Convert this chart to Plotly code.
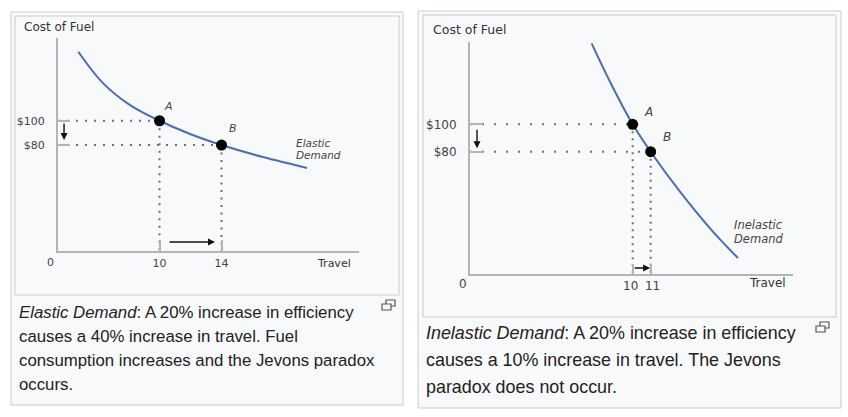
import plotly.graph_objects as go

W, H = 848, 417

# ---------------- data ----------------
# Elastic demand curve (travel, cost of fuel) – nominal diagram units
el_travel = [4.76, 6.35, 8.10, 10.0, 11.97, 14.0, 16.68, 19.52]
el_cost = [156.8, 131.0, 112.9, 100.0, 89.1, 80.0, 70.1, 61.1]
el_points_x = [10, 14]
el_points_y = [100, 80]
el_point_labels = ["A", "B"]
el_xticks = [10, 14]
el_xticktext = ["10", "14"]
el_yticks = [100, 80]
el_yticktext = ["$100", "$80"]

# Inelastic demand curve
in_travel = [7.72, 8.74, 10.0, 11.0, 12.63, 14.46, 15.85]
in_cost = [159.1, 131.1, 100.0, 80.0, 50.8, 21.6, 2.4]
in_points_x = [10, 11]
in_points_y = [100, 80]
in_point_labels = ["A", "B"]
in_xticks = [10, 11]
in_xticktext = ["10\u00a0", "\u00a011"]
in_yticks = [100, 80]
in_yticktext = ["$100", "$80"]

captions_left = [
    "<i>Elastic Demand</i>: A 20% increase in efficiency",
    "causes a 40% increase in travel. Fuel",
    "consumption increases and the Jevons paradox",
    "occurs.",
]
captions_right = [
    "<i>Inelastic Demand</i>: A 20% increase in efficiency",
    "causes a 10% increase in travel. The Jevons",
    "paradox does not occur.",
]

# ---------------- styling / layout ----------------
CURVE = "#4a6db3"
GUIDE = "#6f6f6f"
AXIS = "#b4b4b4"
LABEL = "#444444"
FONT = "DejaVu Sans, Liberation Sans, Arial, sans-serif"
CAP_FONT = "Liberation Sans, Arial, sans-serif"

def px_dom_x(a, b):
    return [a / W, b / W]

def px_dom_y(top, bottom):
    return [1 - bottom / H, 1 - top / H]

L_XR = [3.45, 22.87]
L_YR = [-7.2, 168.1]
R_XR = [0.96, 18.91]
R_YR = [-9.3, 160.1]

fig = go.Figure()

def add_panel(xa, ya, tx, cy, px_, py_, labels, xr, yr, dash_h, dash_v, fs,
              lab_shift, darrow_x, rarrow_y, d_inset, r_inset):
    # guide dotted lines
    for (x0, y0) in zip(px_, py_):
        fig.add_trace(go.Scatter(x=[xr[0], x0], y=[y0, y0], mode="lines",
                                 line=dict(color=GUIDE, width=2, dash=dash_h),
                                 xaxis=xa, yaxis=ya, hoverinfo="skip", showlegend=False))
        fig.add_trace(go.Scatter(x=[x0, x0], y=[y0, yr[0]], mode="lines",
                                 line=dict(color=GUIDE, width=2, dash=dash_v),
                                 xaxis=xa, yaxis=ya, hoverinfo="skip", showlegend=False))
    # curve
    fig.add_trace(go.Scatter(x=tx, y=cy, mode="lines",
                             line=dict(color=CURVE, width=2, shape="spline", smoothing=1.0),
                             xaxis=xa, yaxis=ya, hoverinfo="skip", showlegend=False))
    # points
    fig.add_trace(go.Scatter(x=px_, y=py_, mode="markers",
                             marker=dict(color="black", size=11),
                             xaxis=xa, yaxis=ya, hoverinfo="skip", showlegend=False))
    for (x0, y0, t, (sx, sy)) in zip(px_, py_, labels, lab_shift):
        fig.add_annotation(x=x0, y=y0, xref=xa, yref=ya, text="<i>%s</i>" % t,
                           showarrow=False, xshift=sx, yshift=sy,
                           font=dict(family=FONT, size=fs, color=LABEL))
    # down arrow (price drop)
    fig.add_annotation(x=darrow_x, y=py_[1] + d_inset[1], ax=darrow_x, ay=py_[0] - d_inset[0],
                       xref=xa, yref=ya, axref=xa, ayref=ya, text="", showarrow=True,
                       arrowhead=2, arrowsize=1, arrowwidth=1.4, arrowcolor="#111", standoff=0)
    # right arrow (travel increase)
    fig.add_annotation(x=px_[1] - r_inset[1], y=rarrow_y, ax=px_[0] + r_inset[0], ay=rarrow_y,
                       xref=xa, yref=ya, axref=xa, ayref=ya, text="", showarrow=True,
                       arrowhead=2, arrowsize=1, arrowwidth=1.4, arrowcolor="#111", standoff=0)

add_panel("x", "y", el_travel, el_cost, el_points_x, el_points_y, el_point_labels,
          L_XR, L_YR, "2px,7px", "2px,5.5px", 11,
          [(9, 14), (11, 17)], 3.84, 0.2, (1.1, 4.1), (0.55, 0.42))
add_panel("x2", "y2", in_travel, in_cost, in_points_x, in_points_y, in_point_labels,
          R_XR, R_YR, "2px,10px", "2px,5px", 12,
          [(16, 12), (16, 15)], 1.35, -4.9, (2.8, 2.6), (0.03, 0.03))

axis_common = dict(showgrid=False, zeroline=False, showline=True, linecolor=AXIS,
                   linewidth=2, ticks="inside", tickcolor=AXIS, tickwidth=1.5,
                   fixedrange=True, tickangle=0)

fig.update_layout(
    width=W, height=H, margin=dict(l=0, r=0, t=0, b=0),
    paper_bgcolor="white", plot_bgcolor="rgba(0,0,0,0)",
    showlegend=False,
    xaxis=dict(domain=px_dom_x(58, 359), range=L_XR, tickvals=el_xticks,
               ticktext=el_xticktext, ticklen=11,
               tickfont=dict(family=FONT, size=11, color=LABEL), ticklabelstandoff=1,
               anchor="y", **axis_common),
    yaxis=dict(domain=px_dom_y(38, 251), range=L_YR, tickvals=el_yticks,
               ticktext=el_yticktext, ticklen=12,
               tickfont=dict(family=FONT, size=11, color=LABEL), ticklabelstandoff=9,
               anchor="x", **axis_common),
    xaxis2=dict(domain=px_dom_x(470, 793), range=R_XR, tickvals=in_xticks,
                ticktext=in_xticktext, ticklen=10,
                tickfont=dict(family=FONT, size=12, color=LABEL), ticklabelstandoff=0,
                anchor="y2", **axis_common),
    yaxis2=dict(domain=px_dom_y(42, 274), range=R_YR, tickvals=in_yticks,
                ticktext=in_yticktext, ticklen=13,
                tickfont=dict(family=FONT, size=12, color=LABEL), ticklabelstandoff=9,
                anchor="x2", **axis_common),
)

# frames (thumb boxes) drawn below everything
BORDER = "#c8ccd1"
BG = "#f8f9fa"
def rect(x0, y0, x1, y1, fill, line, lw=1):
    fig.add_shape(type="rect", xref="paper", yref="paper", layer="below",
                  x0=x0 / W, x1=x1 / W, y0=1 - y1 / H, y1=1 - y0 / H,
                  fillcolor=fill, line=dict(color=line, width=lw))

rect(11, 12, 403, 405, BG, BORDER)
rect(15, 16, 399, 295, BG, BORDER)
rect(418, 11, 841, 408, BG, BORDER)
rect(423, 15, 836, 317, BG, BORDER)

# magnify icons
def icon(x, y):
    rect(x + 4, y, x + 13, y + 6, "rgba(0,0,0,0)", "#555", 1.2)
    rect(x, y + 4, x + 9, y + 10, BG, "#555", 1.2)
icon(382, 300)
icon(816, 322)

def ann(text, x, y, xanchor, size, fam=FONT, color=LABEL):
    fig.add_annotation(xref="paper", yref="paper", x=x / W, y=1 - y / H, text=text,
                       showarrow=False, xanchor=xanchor, yanchor="middle",
                       font=dict(family=fam, size=size, color=color))

# axis titles / origin labels
ann("Cost of Fuel", 22, 27, "left", 12, color="#333")
ann("Travel", 353, 263, "right", 11, color="#333")
ann("0", 50, 262, "center", 11)
ann("<i>Elastic</i>", 294, 143, "left", 10.5)
ann("<i>Demand</i>", 294, 155, "left", 10.5)

ann("Cost of Fuel", 431, 29, "left", 12.5, color="#333")
ann("Travel", 788, 283, "right", 12, color="#333")
ann("0", 463, 284, "center", 12)
ann("<i>Inelastic</i>", 732, 225, "left", 11.5)
ann("<i>Demand</i>", 732, 239, "left", 11.5)

# captions
for i, t in enumerate(captions_left):
    ann(t, 17, 312 + 24 * i, "left", 16.8, fam=CAP_FONT, color="#222")
for i, t in enumerate(captions_right):
    ann(t, 424, 333 + 27 * i, "left", 17.9, fam=CAP_FONT, color="#222")

fig.write_html("out.html", config={"displayModeBar": False},
               post_script="document.body.style.margin='0';")
